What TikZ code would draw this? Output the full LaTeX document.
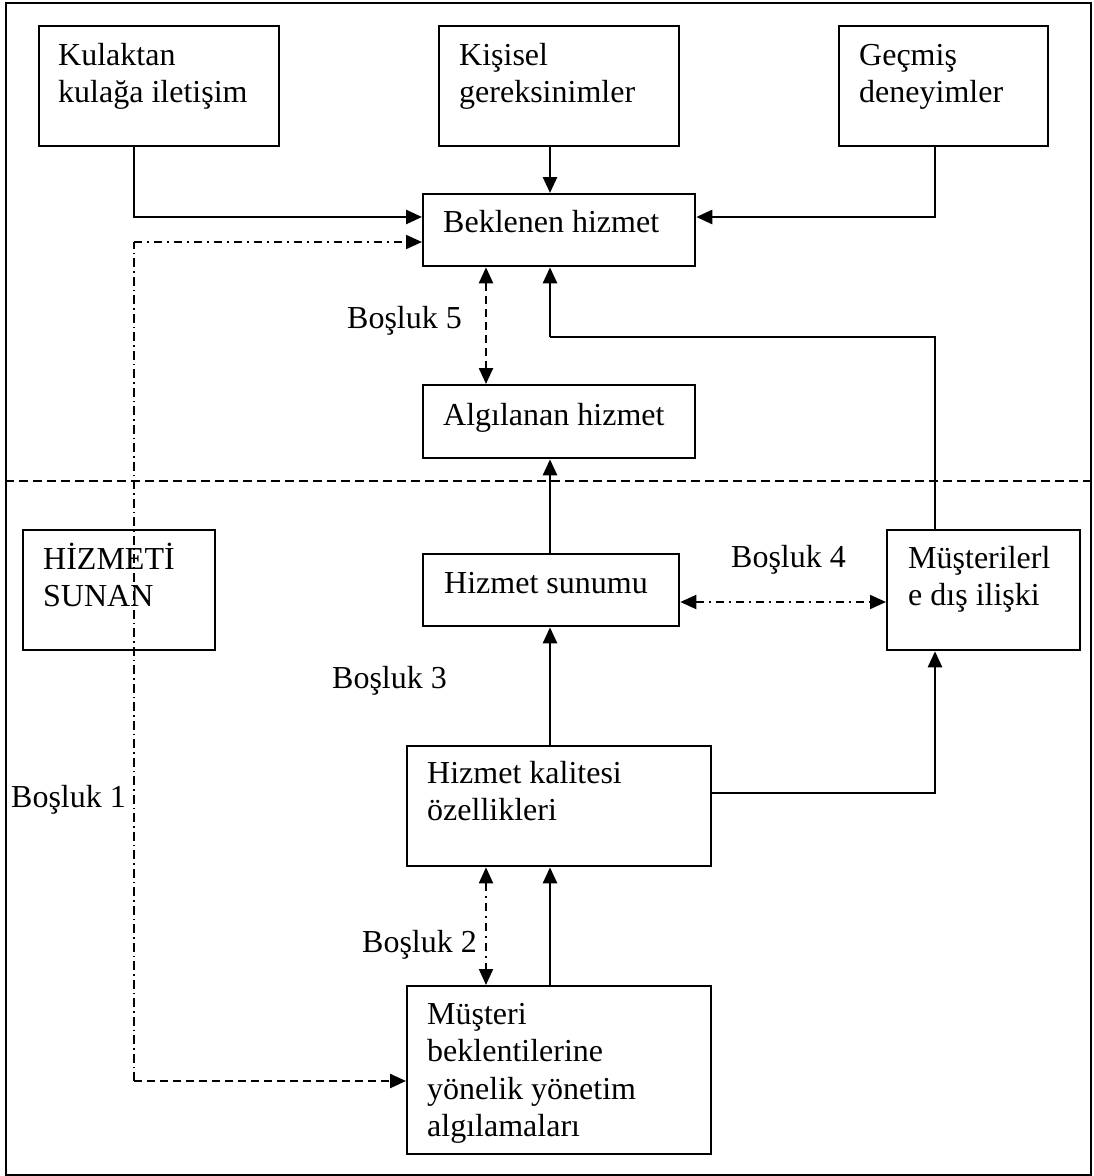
\documentclass[tikz,border=0pt]{standalone}
\usepackage{fontspec}
\setmainfont{Liberation Serif}
\usetikzlibrary{arrows.meta,calc}
\newcommand{\mlines}[1]{\begin{tabular}[t]{@{}l@{}}#1\end{tabular}}
\begin{document}
\begin{tikzpicture}[x=1pt,y=-1pt,
  box/.style={draw,line width=2.3pt,rectangle,inner sep=0pt,anchor=north west},
  txt/.style={inner sep=0pt,anchor=base west,font=\fontsize{32}{37.5}\selectfont},
  conn/.style={line width=2.6pt},
  tip/.tip={Triangle[length=16pt,width=14pt]},
  ddot/.style={line width=2pt,dash pattern=on 8pt off 5pt on 2pt off 5pt},
  ddotv/.style={line width=1.8pt,dash pattern=on 9pt off 4pt on 1.5pt off 4pt},
  dsh/.style={line width=2.4pt,dash pattern=on 8pt off 5pt},
  sep/.style={line width=2pt,dash pattern=on 9pt off 5pt}]
\useasboundingbox (0,0) rectangle (1094,1176);
% frame
\node[draw,line width=2pt,inner sep=0pt,anchor=north west,minimum width=1085pt,minimum height=1172pt] (frame) at (5,1.5) {};
% helper columns / rows
\coordinate (colL) at (134,0);
\coordinate (colB) at (486,0);
\coordinate (colA) at (550,0);
\coordinate (colR) at (935,0);
\coordinate (r217) at (0,217);
\coordinate (r242) at (0,242);
\coordinate (r337) at (0,337);
\coordinate (r481) at (0,481);
\coordinate (r602) at (0,602);
\coordinate (r793) at (0,793);
\coordinate (r1081) at (0,1081);
% boxes
\node[box,minimum width=240pt,minimum height=120pt] (kul) at (38,25) {};
\node[box,minimum width=240pt,minimum height=120pt] (kis) at (438,25) {};
\node[box,minimum width=209pt,minimum height=120pt] (gec) at (838,25) {};
\node[box,minimum width=272pt,minimum height=72pt] (bek) at (422,193) {};
\node[box,minimum width=272pt,minimum height=73pt] (alg) at (422,384) {};
\node[box,minimum width=192pt,minimum height=120pt] (hsun) at (22,529) {};
\node[box,minimum width=256pt,minimum height=72pt] (sun) at (422,553) {};
\node[box,minimum width=193pt,minimum height=120pt] (mdi) at (886,529) {};
\node[box,minimum width=304pt,minimum height=120pt] (kal) at (406,745) {};
\node[box,minimum width=304pt,minimum height=168pt] (mus) at (406,985) {};
% box texts
\node[txt] (kult) at (58,65) {\mlines{Kulaktan\\kulağa iletişim}};
\node[txt] (kist) at (459,65) {\mlines{Kişisel\\gereksinimler}};
\node[txt] (gect) at (859,65) {\mlines{Geçmiş\\deneyimler}};
\node[txt] (bekt) at (443,232) {Beklenen hizmet};
\node[txt] (algt) at (443,425) {Algılanan hizmet};
\node[txt] (hsunt) at (43,569) {\mlines{HİZMETİ\\SUNAN}};
\node[txt] (sunt) at (444,593) {Hizmet sunumu};
\node[txt] (mdit) at (908,568) {\mlines{Müşterilerl\\e dış ilişki}};
\node[txt] (kalt) at (427,783) {\mlines{Hizmet kalitesi\\özellikleri}};
\node[txt] (must) at (427,1024) {\mlines{Müşteri\\beklentilerine\\yönelik yönetim\\algılamaları}};
% gap labels
\node[txt] (b5) at (347,328) {Boşluk 5};
\node[txt] (b4) at (731,567) {Boşluk 4};
\node[txt] (b3) at (332,688) {Boşluk 3};
\node[txt] (b2) at (362,952) {Boşluk 2};
\node[txt] (b1) at (11,807) {Boşluk 1};
% separator
\draw[sep] (frame.west |- r481) -- (frame.east |- r481);
% connectors
\draw[conn,-tip] (kul.south -| colL) |- (bek.west |- r217);
\draw[conn,-tip] (kis.south -| colA) -- (bek.north -| colA);
\draw[conn,-tip] (gec.south -| colR) |- (bek.east |- r217);
\draw[ddotv] (colL |- r1081) -- (colL |- r242);
\draw[ddot,-tip] (colL |- r242) -- (bek.west |- r242);
\draw[dsh,-tip] (colL |- r1081) -- (mus.west |- r1081);
\draw[dsh,tip-tip] (bek.south -| colB) -- (alg.north -| colB);
\draw[line width=1.6pt] (mdi.north -| colR) |- (colA |- r337);
\draw[conn,-tip] (colA |- r337) -- (bek.south -| colA);
\draw[conn,-tip] (sun.north -| colA) -- (alg.south -| colA);
\draw[ddot,tip-tip] (sun.east |- r602) -- (mdi.west |- r602);
\draw[conn,-tip] (kal.north -| colA) -- (sun.south -| colA);
\draw[conn,-tip] (kal.east |- r793) -| (mdi.south -| colR);
\draw[conn,-tip] (mus.north -| colA) -- (kal.south -| colA);
\draw[ddot,tip-tip] (kal.south -| colB) -- (mus.north -| colB);
\end{tikzpicture}
\end{document}
